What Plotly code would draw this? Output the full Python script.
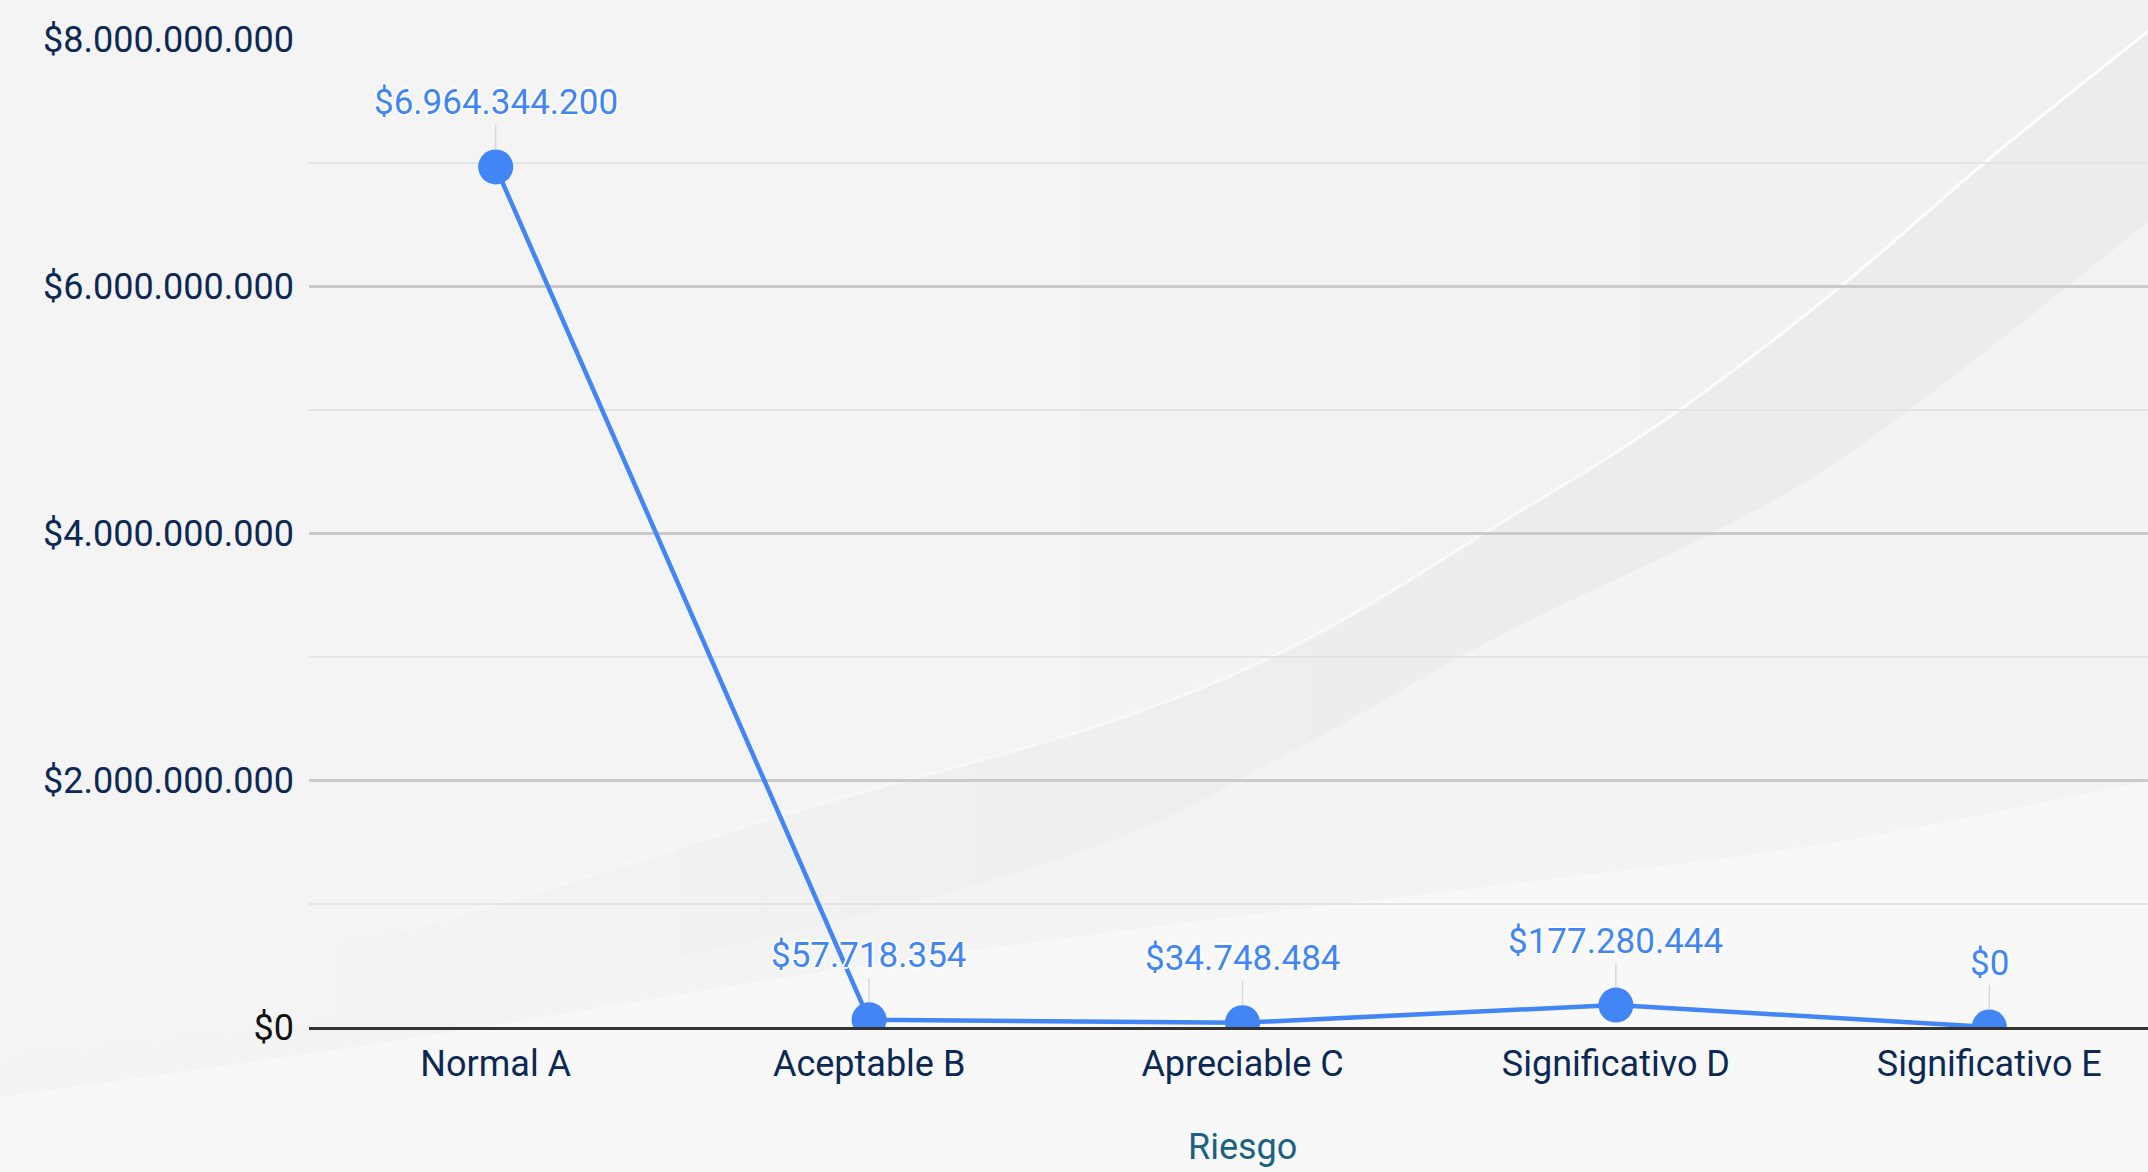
import plotly.graph_objects as go

# ---------------- data ----------------
categories = ["Normal A", "Aceptable B", "Apreciable C", "Significativo D", "Significativo E"]
values = [6964344200, 57718354, 34748484, 177280444, 0]
y_tick_values = [0, 2000000000, 4000000000, 6000000000, 8000000000]
y_tick_labels = ["$0", "$2.000.000.000", "$4.000.000.000", "$6.000.000.000", "$8.000.000.000"]
x_title = "Riesgo"


def money(v):
    return "$" + f"{v:,}".replace(",", ".")


# ---------------- geometry / style ----------------
W, H = 2176, 1172          # the reference is cropped at 2148 on the right
ML, MR, MT, MB = 309, 0, 39, 145
PW, PH = W - ML - MR, H - MT - MB

BLUE = "#4285F4"
NAVY = "#0c2855"
TEAL = "#1a6282"
FONT = "Roboto"


def to_paper(px, py):
    return (px - ML) / PW, (H - MB - py) / PH


def dense(pts, n=24):
    out = []
    for i in range(len(pts) - 1):
        p0 = pts[i - 1] if i > 0 else pts[i]
        p1, p2 = pts[i], pts[i + 1]
        p3 = pts[i + 2] if i + 2 < len(pts) else pts[i + 1]
        for j in range(n):
            t = j / n
            out.append(tuple(
                0.5 * (2 * p1[k] + (-p0[k] + p2[k]) * t
                       + (2 * p0[k] - 5 * p1[k] + 4 * p2[k] - p3[k]) * t * t
                       + (-p0[k] + 3 * p1[k] - 3 * p2[k] + p3[k]) * t ** 3)
                for k in range(2)))
    out.append(pts[-1])
    return out


def cut(curve, x0, x1=1e9):
    """points of a dense curve (x increasing) restricted to [x0, x1]"""
    res = []
    for a, b in zip(curve[:-1], curve[1:]):
        for xc in (x0, x1):
            if a[0] < xc <= b[0] or b[0] < xc <= a[0]:
                f = (xc - a[0]) / (b[0] - a[0])
                res.append((xc, a[1] + f * (b[1] - a[1])))
        if x0 <= b[0] <= x1:
            res.append((b[0], b[1]))
    return sorted(set(res))


def poly(points):
    s = ""
    for i, (x, y) in enumerate(points):
        px, py = to_paper(x, y)
        s += ("M" if i == 0 else " L") + f" {px:.4f},{py:.4f}"
    return s


def path_shape(points, fill=None, line=None, closed=True):
    d = dict(type="path", xref="paper", yref="paper", layer="below",
             path=poly(points) + (" Z" if closed else ""))
    if fill:
        d["fillcolor"] = fill
        d["line"] = dict(width=0)
    if line:
        d["line"] = line
    return d


w_curve = dense([(-20, 1010), (400, 930), (800, 810), (1100, 725), (1300, 643),
                 (1501, 523), (1668, 418), (1835, 291), (2000, 150), (2200, -10)])
r_curve = dense([(-20, 1060), (400, 1010), (800, 930), (1100, 845), (1300, 747),
                 (1501, 635), (1702, 538), (1835, 463), (2000, 340), (2200, 180)])
l_curve = dense([(-20, 1100), (400, 1040), (800, 975), (1167, 925), (1500, 885),
                 (1835, 842), (2200, 770)])

shapes = []
# slightly darker upper right (above the white swoosh)
N = 14
for k in range(N):
    xk = 1000 + k * 80
    g = round(244 - 4 * (k + 1) / N)
    top = cut(w_curve, xk)
    shapes.append(path_shape(top + [(2200, -20), (xk, -20)], fill=f"rgb({g},{g},{g})"))
# darker band between the white swoosh and the lower edge, fading to the left
N = 30
for k in range(N):
    xk = 300 + k * 42
    g = round(244 - 8 * (k + 1) / N)
    top = cut(w_curve, xk)
    bot = cut(r_curve, xk)
    shapes.append(path_shape(top + bot[::-1], fill=f"rgb({g},{g},{g})"))
# lighter lower regions
shapes.append(path_shape(r_curve + [(2200, 1200), (-20, 1200)], fill="#f3f3f3"))
shapes.append(path_shape(l_curve + [(2200, 1200), (-20, 1200)], fill="#f8f8f8"))
# thin white highlight, fading to the left
N = 16
for k in range(N):
    xa = 400 + k * 112
    xb = xa + 114 if k < N - 1 else 2200
    op = 0.15 + 0.8 * (k + 1) / N
    shapes.append(path_shape(cut(w_curve, xa, xb), closed=False,
                             line=dict(width=3, color=f"rgba(255,255,255,{op:.2f})")))

fig = go.Figure()
fig.add_trace(go.Scatter(
    x=categories, y=values, mode="lines+markers",
    line=dict(color=BLUE, width=4.5),
    marker=dict(color=BLUE, size=35),
    hoverinfo="skip", showlegend=False,
))

halo = "2px 0 0 #fff, -2px 0 0 #fff, 0 2px 0 #fff, 0 -2px 0 #fff, 1px 1px 0 #fff, -1px -1px 0 #fff, 1px -1px 0 #fff, -1px 1px 0 #fff"
annotations = [
    dict(x=c, y=v, xref="x", yref="y", text=money(v), showarrow=True,
         arrowhead=0, arrowwidth=1.5, arrowcolor="#d8d8d8", ax=0, ay=-64,
         standoff=18, font=dict(family=FONT, size=35, color=BLUE, shadow=halo))
    for c, v in zip(categories, values)
]
# x-axis title (placed as an annotation so it can sit near the bottom edge)
annotations.append(dict(
    x=0.5, y=to_paper(0, 1147)[1], xref="paper", yref="paper", xanchor="center",
    yanchor="middle", showarrow=False, text=x_title,
    font=dict(family=FONT, size=36, color=TEAL)))

tick_text = [f'<span style="color:#111111">{t}</span>' if val == 0 else t
             for t, val in zip(y_tick_labels, y_tick_values)]

fig.update_layout(
    width=W, height=H, autosize=False,
    margin=dict(l=ML, r=MR, t=MT, b=MB, pad=0, autoexpand=False),
    paper_bgcolor="#f4f4f4", plot_bgcolor="rgba(0,0,0,0)",
    font=dict(family=FONT, size=36, color=NAVY),
    shapes=shapes, annotations=annotations, showlegend=False,
    xaxis=dict(
        type="category", range=[-0.5, 4.5], showgrid=False, zeroline=False,
        showline=True, linecolor="#333333", linewidth=2.5, ticks="", automargin=False,
        tickfont=dict(family=FONT, size=36, color=NAVY), ticklabelstandoff=3,
    ),
    yaxis=dict(
        range=[0, 8000000000], tickmode="array", tickvals=y_tick_values, ticktext=tick_text,
        showgrid=True, gridcolor="#cacaca", gridwidth=2.5, zeroline=False, ticks="",
        automargin=False,
        tickfont=dict(family=FONT, size=36, color=NAVY), ticklabelstandoff=14,
        minor=dict(tickmode="linear", tick0=0, dtick=1000000000, showgrid=True,
                   gridcolor="#e4e4e4", gridwidth=2, ticks=""),
    ),
)

fig.write_html(
    "out.html",
    config={"displayModeBar": False},
    post_script="document.body.style.margin='0';document.body.style.overflow='hidden';",
)
